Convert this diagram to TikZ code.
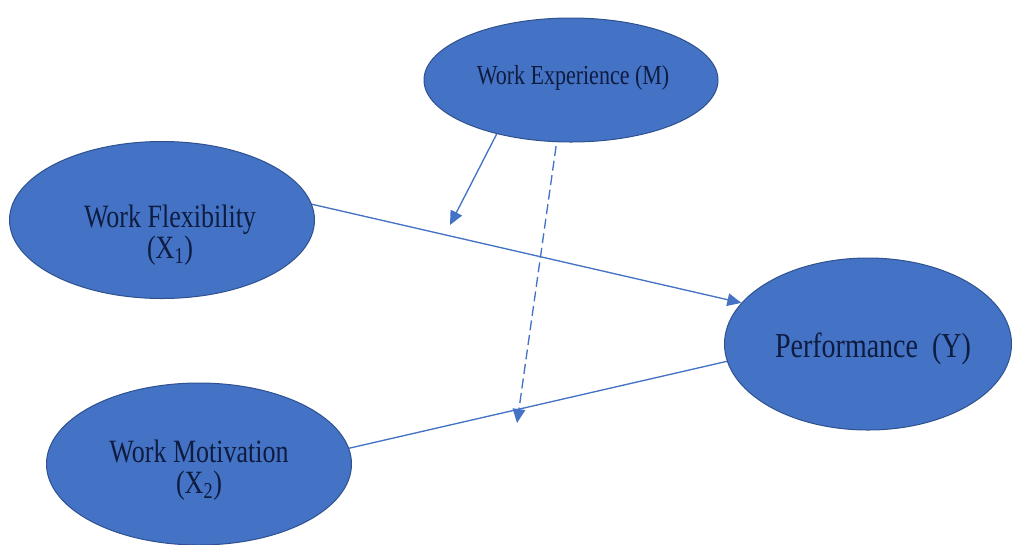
\documentclass[tikz,border=0pt]{standalone}
\usepackage{fontspec}
\setmainfont{Liberation Serif}
\usepackage{graphicx}
\usetikzlibrary{shapes.geometric,arrows.meta}
\definecolor{boxblue}{RGB}{68,114,196}
\definecolor{boxedge}{RGB}{47,82,143}
\definecolor{labelnavy}{RGB}{14,28,64}
\newcommand{\tallbox}[1]{\scalebox{1}[1.25]{\begin{tabular}{@{}c@{}}#1\end{tabular}}}

\begin{document}
\begin{tikzpicture}[x=0.75pt,y=0.75pt,yscale=-1,xscale=1,
        construct/.style={ellipse,draw=boxedge,fill=boxblue,line width=0.75pt,inner sep=0pt},
        lbl/.style={text=labelnavy,inner sep=0pt},
        plainlink/.style={draw=boxblue,line width=1pt},
        link/.style={plainlink,-{Triangle[length=10.5pt,width=9.5pt]}}]
        \useasboundingbox (0,0) rectangle (1013,544);

        \node[construct,minimum width=220.5pt,minimum height=93pt] (we) at (571,80) {};
        \node[construct,minimum width=228.75pt,minimum height=117.75pt] (wf) at (162,220) {};
        \node[construct,minimum width=215.25pt,minimum height=129pt] (perf) at (868,344) {};
        \node[construct,minimum width=228.75pt,minimum height=121.5pt] (wm) at (199,464) {};

        \node[lbl,font=\fontsize{16.5}{18}\selectfont] (we-txt) at (573,78) {\tallbox{Work Experience (M)}};
        \node[lbl,font=\fontsize{19.5}{18}\selectfont] (wf-txt) at (170,236) {\tallbox{Work Flexibility\\(X\textsubscript{1})}};
        \node[lbl,font=\fontsize{21}{18}\selectfont] (perf-txt) at (873,350) {\tallbox{Performance~~(Y)}};
        \node[lbl,font=\fontsize{19.5}{18}\selectfont] (wm-txt) at (199,471) {\tallbox{Work Motivation\\(X\textsubscript{2})}};

        \coordinate (we-end) at (450,225);
        \coordinate (dash-end) at (517,423);

        \draw[link] (wf.6.3) -- (perf.162.6);
        \draw[plainlink] (wm.6.3) -- (perf.187.2);
        \draw[link] (we.216.7) -- (we-end);
        \draw[link,dash pattern=on 7.5pt off 3.5pt,shorten <=3pt] (we.257.4) -- (dash-end);
    \end{tikzpicture}
\end{document}
